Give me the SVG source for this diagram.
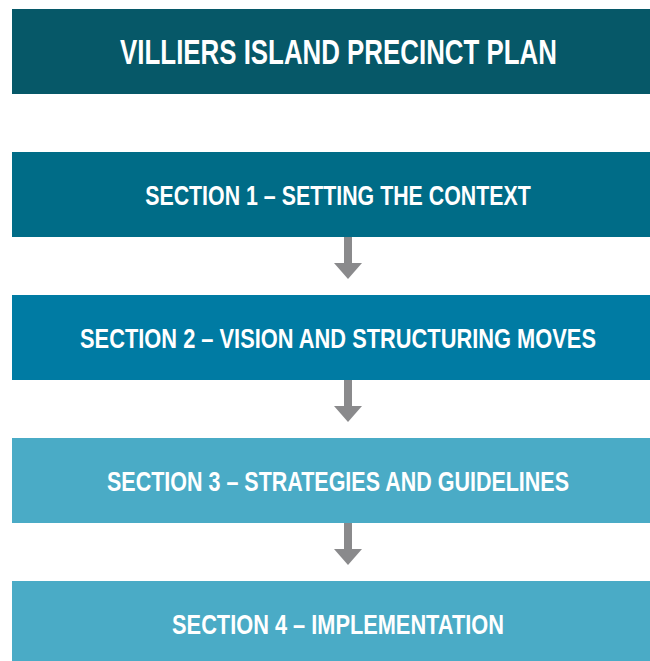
<svg xmlns="http://www.w3.org/2000/svg" width="650" height="661" viewBox="0 0 650 661">
<style>
.lbl{font-family:"Liberation Sans",Arial,sans-serif;font-weight:bold;fill:#ffffff;text-anchor:middle}
.arrow{fill:#8a8a8c}
</style>
<rect x="0" y="0" width="650" height="661" fill="#ffffff"/>
<g id="title">
<rect x="12" y="9" width="638" height="85" fill="#065868"/>
<text class="lbl" transform="translate(338.5,64) scale(0.7,1)" x="0" y="0" font-size="35" textLength="624" lengthAdjust="spacingAndGlyphs">VILLIERS ISLAND PRECINCT PLAN</text>
</g>
<g id="section1">
<rect x="12" y="152" width="638" height="85" fill="#006c87"/>
<text class="lbl" transform="translate(338,205) scale(0.7,1)" x="0" y="0" font-size="28" textLength="551" lengthAdjust="spacingAndGlyphs">SECTION 1 – SETTING THE CONTEXT</text>
</g>
<g id="section2">
<rect x="12" y="295" width="638" height="85" fill="#007ba3"/>
<text class="lbl" transform="translate(338,348) scale(0.7,1)" x="0" y="0" font-size="28" textLength="737" lengthAdjust="spacingAndGlyphs">SECTION 2 – VISION AND STRUCTURING MOVES</text>
</g>
<g id="section3">
<rect x="12" y="438" width="638" height="85" fill="#4aabc6"/>
<text class="lbl" transform="translate(338,491) scale(0.7,1)" x="0" y="0" font-size="28" textLength="660" lengthAdjust="spacingAndGlyphs">SECTION 3 – STRATEGIES AND GUIDELINES</text>
</g>
<g id="section4">
<rect x="12" y="581" width="638" height="85" fill="#4aabc6"/>
<text class="lbl" transform="translate(338,634) scale(0.7,1)" x="0" y="0" font-size="28" textLength="474" lengthAdjust="spacingAndGlyphs">SECTION 4 – IMPLEMENTATION</text>
</g>
<g id="connectors">
<path class="arrow" d="M344 237 H352 V263 H362 L348 279 L334 263 H344 Z"/>
<path class="arrow" d="M344 380 H352 V406 H362 L348 422 L334 406 H344 Z"/>
<path class="arrow" d="M344 523 H352 V549 H362 L348 565 L334 549 H344 Z"/>
</g>
</svg>
